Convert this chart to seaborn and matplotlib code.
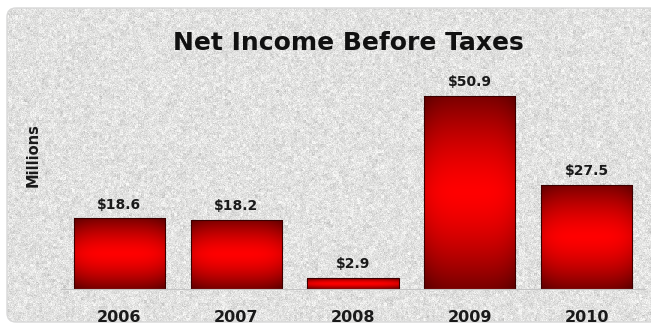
import numpy as np
import pandas as pd
import matplotlib
matplotlib.use("Agg")
import matplotlib.pyplot as plt
from matplotlib.patches import FancyBboxPatch
import seaborn as sns

# Net income before taxes, in millions of dollars
years = ["2006", "2007", "2008", "2009", "2010"]
income = [18.6, 18.2, 2.9, 50.9, 27.5]
title = "Net Income Before Taxes"
y_label = "Millions"

df = pd.DataFrame({"year": years, "income": income})

sns.set_theme(style="white")
plt.rcParams["font.family"] = ["DejaVu Sans"]

W, H = 651, 326
fig = plt.figure(figsize=(W / 100, H / 100), dpi=100)
fig.patch.set_facecolor("white")

# Speckled grey stone backdrop inside a rounded panel
bg = fig.add_axes([0, 0, 1, 1], zorder=0)
bg.set_xlim(0, W)
bg.set_ylim(H, 0)
bg.axis("off")
rng = np.random.default_rng(7)
fine = rng.normal(0, 1, (H, W))
coarse = rng.normal(0, 1, (H // 3 + 1, W // 3 + 1)).repeat(3, 0).repeat(3, 1)[:H, :W]
lum = 226 + 9 * fine + 6 * coarse
lum = np.clip(lum, 170, 250) / 255.0
tex = np.dstack([lum, lum, lum * 0.995])
panel = FancyBboxPatch((7, 8), 680, 314, boxstyle="round,pad=0,rounding_size=9",
                       transform=bg.transData, facecolor="none",
                       edgecolor="#d8d8d8", linewidth=1.0)
bg.add_patch(panel)
im = bg.imshow(tex, extent=[0, W, H, 0], interpolation="bilinear", zorder=0)
im.set_clip_path(panel)

# Chart area
ax = fig.add_axes([61 / W, 1 - 289 / H, (645 - 61) / W, (289 - 80) / H], zorder=1)
ax.patch.set_alpha(0)
sns.barplot(data=df, x="year", y="income", ax=ax, width=0.78,
            color="#ff0000", saturation=1, edgecolor="#3a0000", linewidth=0.8)

# Red gradient fill: dark at top and bottom edges, bright through the middle
ny, nx = 64, 32
vy = np.linspace(-1, 1, ny)[:, None]
vx = np.linspace(-1, 1, nx)[None, :]
shade = 1 - 0.52 * np.abs(vy) ** 1.5 - 0.12 * np.abs(vx) ** 4
shade = np.clip(shade, 0, 1)
grad = np.dstack([shade, np.zeros_like(shade), np.zeros_like(shade)])
for p in ax.patches:
    x0, y0 = p.get_x(), p.get_y()
    w, h = p.get_width(), p.get_height()
    g = ax.imshow(grad, extent=[x0, x0 + w, y0, y0 + h], aspect="auto",
                  origin="lower", interpolation="bicubic", zorder=p.get_zorder() + 0.1)
    g.set_clip_path(p)
    p.set_facecolor("none")
    p.set_zorder(p.get_zorder() + 0.2)
ax.set_xlim(-0.5, 4.5)
ax.set_ylim(0, 55.1)

ax.bar_label(ax.containers[0], fmt="${:.1f}", padding=5,
             fontsize=10, fontweight="bold", color="#1a1a1a")

for s in ["top", "right", "left"]:
    ax.spines[s].set_visible(False)
ax.spines["bottom"].set_color("#c4c4c4")
ax.spines["bottom"].set_linewidth(0.8)
ax.set_yticks([])
ax.set_xlabel("")
ax.set_ylabel("")
ax.tick_params(axis="x", length=0, pad=15, labelsize=11.5, labelcolor="#1a1a1a")
for t in ax.get_xticklabels():
    t.set_fontweight("bold")

fig.text(348 / W, 1 - 43 / H, title, ha="center", va="center",
         fontsize=18, fontweight="bold", color="#111111")
fig.text(33 / W, 1 - 155 / H, y_label, ha="center", va="center", rotation=90,
         fontsize=10.5, fontweight="bold", color="#1a1a1a")

fig.savefig("out.png", dpi=100, facecolor="white")
